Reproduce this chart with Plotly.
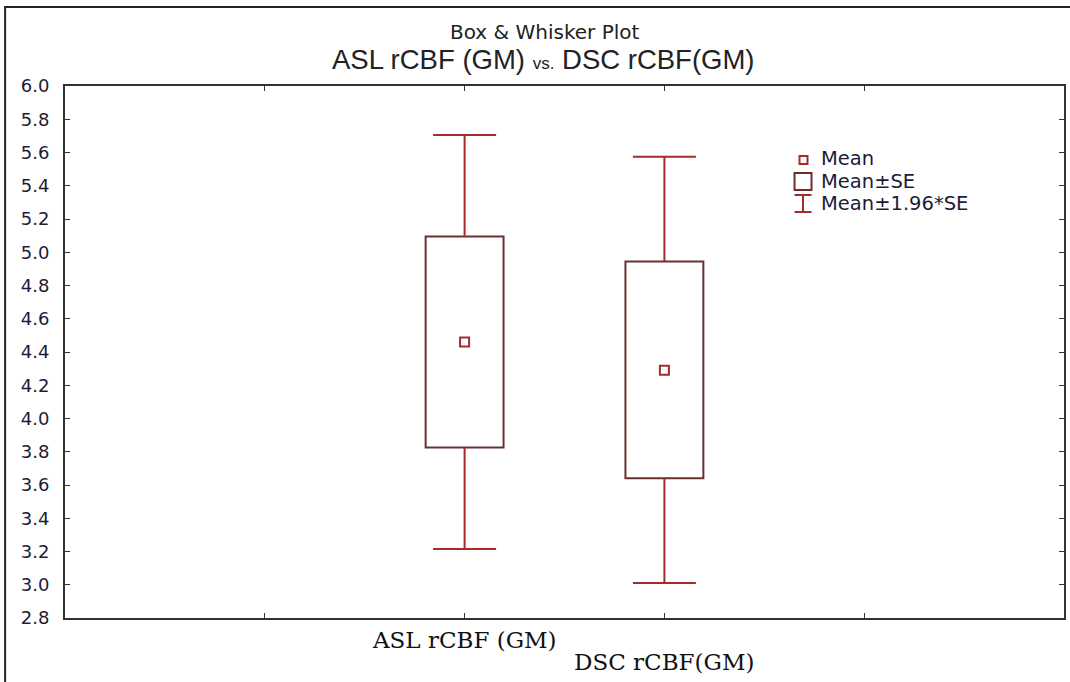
import plotly.graph_objects as go

# ---- data ----
categories = ["ASL rCBF (GM)", "DSC rCBF(GM)"]
cat_pos = [2, 3]
means = [4.46, 4.29]
se_low = [3.825, 3.64]
se_high = [5.095, 4.945]
ci_low = [3.215, 3.01]
ci_high = [5.705, 5.575]
y_ticks = [round(2.8 + 0.2 * i, 1) for i in range(17)]

W, H = 1070, 682
L, R, T, B = 65, 4, 86, 64
PW, PH = W - L - R, H - T - B

def px(x):
    return (x - L) / PW

def py(y):
    return (H - B - y) / PH

BOX_COL = "#6a3030"
RED = "#a62a2a"
TXT = "#1c1c38"

fig = go.Figure()

# whisker stems (box edge -> limit), drawn as line segments
wx, wy = [], []
for c, lo, slo, shi, hi in zip(cat_pos, ci_low, se_low, se_high, ci_high):
    wx += [c, c, None, c, c, None]
    wy += [shi, hi, None, lo, slo, None]
fig.add_trace(go.Scatter(x=wx, y=wy, mode="lines",
                         line=dict(color=RED, width=2),
                         hoverinfo="skip", showlegend=False))
# whisker caps
fig.add_trace(go.Scatter(
    x=cat_pos + cat_pos, y=ci_high + ci_low, mode="markers",
    marker=dict(symbol="line-ew", size=45, color=RED, line=dict(width=2, color=RED)),
    hoverinfo="skip", showlegend=False))
# boxes mean +- SE
fig.add_trace(go.Bar(
    x=cat_pos, base=se_low, y=[h - l for h, l in zip(se_high, se_low)],
    width=0.39, marker=dict(color="white", line=dict(color=BOX_COL, width=2)),
    hoverinfo="skip", showlegend=False))
# means
fig.add_trace(go.Scatter(
    x=cat_pos, y=means, mode="markers",
    marker=dict(symbol="square-open", size=9, color=RED, line=dict(width=2, color=RED)),
    hoverinfo="skip", showlegend=False))

# ---- custom legend ----
shapes = []
shapes.append(dict(type="rect", xref="paper", yref="paper",
                   x0=px(801), x1=px(809), y0=py(164), y1=py(156),
                   line=dict(color=RED, width=2)))
shapes.append(dict(type="rect", xref="paper", yref="paper",
                   x0=px(796), x1=px(813), y0=py(190), y1=py(173),
                   line=dict(color=BOX_COL, width=2)))
shapes.append(dict(type="line", xref="paper", yref="paper",
                   x0=px(804.5), x1=px(804.5), y0=py(212), y1=py(195),
                   line=dict(color=RED, width=2)))
shapes.append(dict(type="line", xref="paper", yref="paper",
                   x0=px(796), x1=px(813), y0=py(195), y1=py(195),
                   line=dict(color=RED, width=2)))
shapes.append(dict(type="line", xref="paper", yref="paper",
                   x0=px(796), x1=px(813), y0=py(212), y1=py(212),
                   line=dict(color=RED, width=2)))
# outer frame
shapes.append(dict(type="rect", xref="paper", yref="paper",
                   x0=px(5), x1=px(1080), y0=py(690), y1=py(7),
                   line=dict(color="#222222", width=2)))

annotations = []
legend_items = [("Mean", 159), ("Mean±SE", 181), ("Mean±1.96*SE", 203)]
for txt, yy in legend_items:
    annotations.append(dict(text=txt, xref="paper", yref="paper",
                            x=px(821), y=py(yy), xanchor="left", yanchor="middle",
                            showarrow=False,
                            font=dict(family="DejaVu Sans", size=19.5, color=TXT)))
annotations.append(dict(text="Box & Whisker Plot", xref="paper", yref="paper",
                        x=px(546), y=py(32), xanchor="center", yanchor="middle",
                        showarrow=False,
                        font=dict(family="DejaVu Sans", size=20, color="#222222")))
annotations.append(dict(text="ASL rCBF (GM) <span style='font-size:17px'>vs.</span> DSC rCBF(GM)",
                        xref="paper", yref="paper",
                        x=px(544), y=py(60), xanchor="center", yanchor="middle",
                        showarrow=False,
                        font=dict(family="Liberation Sans, Arial", size=27.5, color="#222222")))
# category labels (staggered, as in the reference)
label_y = [640, 662]
for cx, lab, ly in zip(cat_pos, categories, label_y):
    annotations.append(dict(text=lab, xref="x", yref="paper",
                            x=cx, y=py(ly), xanchor="center", yanchor="middle",
                            showarrow=False,
                            font=dict(family="DejaVu Serif", size=23, color="#111111")))

fig.update_layout(
    width=W, height=H,
    margin=dict(l=L, r=R, t=T, b=B),
    paper_bgcolor="white", plot_bgcolor="white",
    shapes=shapes, annotations=annotations,
    showlegend=False,
    xaxis=dict(range=[0, 5], tickvals=[1, 2, 3, 4], showticklabels=False,
               ticks="inside", ticklen=5, tickcolor="#333333",
               showline=True, linecolor="#333333", linewidth=2, mirror="ticks",
               showgrid=False, zeroline=False),
    yaxis=dict(range=[2.8, 6.0], tickvals=y_ticks, tickformat=".1f",
               ticks="inside", ticklen=5, tickcolor="#333333",
               showline=True, linecolor="#333333", linewidth=2, mirror="ticks",
               showgrid=False, zeroline=False, ticklabelstandoff=10,
               tickfont=dict(family="DejaVu Sans", size=18, color=TXT)),
)

fig.write_html("out.html")
